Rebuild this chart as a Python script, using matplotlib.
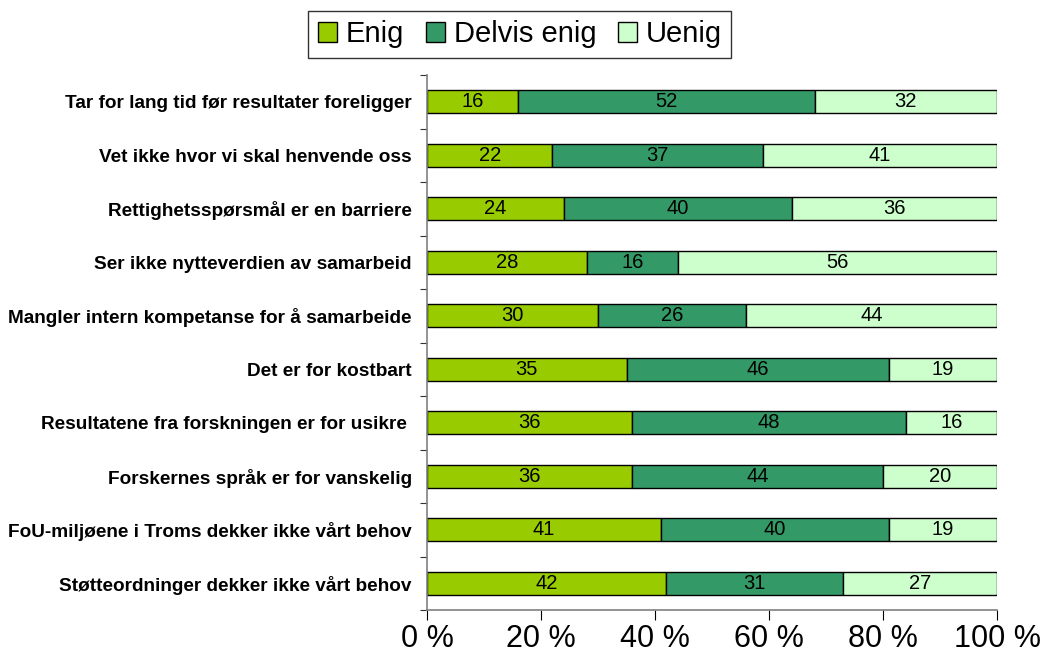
import matplotlib
matplotlib.use("Agg")
import matplotlib.pyplot as plt
import numpy as np

categories = [
    "Tar for lang tid før resultater foreligger",
    "Vet ikke hvor vi skal henvende oss",
    "Rettighetsspørsmål er en barriere",
    "Ser ikke nytteverdien av samarbeid",
    "Mangler intern kompetanse for å samarbeide",
    "Det er for kostbart",
    "Resultatene fra forskningen er for usikre ",
    "Forskernes språk er for vanskelig",
    "FoU-miljøene i Troms dekker ikke vårt behov",
    "Støtteordninger dekker ikke vårt behov",
]
enig = [16, 22, 24, 28, 30, 35, 36, 36, 41, 42]
delvis = [52, 37, 40, 16, 26, 46, 48, 44, 40, 31]
uenig = [32, 41, 36, 56, 44, 19, 16, 20, 19, 27]
series_names = ["Enig", "Delvis enig", "Uenig"]
colors = ["#99CC00", "#339966", "#CCFFCC"]
xtick_vals = [0, 20, 40, 60, 80, 100]
xtick_labels = ["0 %", "20 %", "40 %", "60 %", "80 %", "100 %"]

plt.rcParams['font.family'] = ['Liberation Sans', 'DejaVu Sans']

fig = plt.figure(figsize=(10.46, 6.71), dpi=100)
ax = fig.add_axes([0.4082, 0.0909, 0.545, 0.7973])

y = np.arange(len(categories))
left = np.zeros(len(categories))
for vals, name, c in zip([enig, delvis, uenig], series_names, colors):
    vals = np.array(vals, dtype=float)
    ax.barh(y, vals, left=left, height=0.43, color=c, edgecolor="black",
            linewidth=1.0, label=name)
    for yi, l, v in zip(y, left, vals):
        ax.text(l + v / 2, yi, f"{int(v)}", ha="center", va="center", fontsize=14.5)
    left += vals

ax.set_xlim(0, 100)
ax.set_ylim(len(categories) - 0.5, -0.5)

ax.set_yticks(np.arange(-0.5, len(categories), 1.0))
ax.set_yticklabels([])
ax.set_yticks(y, minor=True)
ax.set_yticklabels(categories, minor=True, fontsize=13.7, fontweight="bold")
ax.tick_params(axis="y", which="minor", length=0, pad=11)
ax.tick_params(axis="y", which="major", length=5, color="#333333", direction="out")

ax.set_xticks(xtick_vals)
ax.set_xticklabels(xtick_labels, fontsize=22)
ax.tick_params(axis="x", length=7, direction="out", color="black", pad=3)

for s in ["top", "right"]:
    ax.spines[s].set_visible(False)
ax.spines["left"].set_color("#808080")
ax.spines["bottom"].set_color("#808080")
ax.spines["left"].set_linewidth(1.2)
ax.spines["bottom"].set_linewidth(1.2)

leg = fig.legend(loc="center", bbox_to_anchor=(0.497, 0.949), ncol=3, fontsize=21,
                 frameon=True, fancybox=False, edgecolor="black",
                 handlelength=0.65, handleheight=0.65, handletextpad=0.3,
                 columnspacing=0.75, borderpad=0.33)
leg.get_frame().set_linewidth(1.0)

fig.savefig("out.png", dpi=100, facecolor="white")
